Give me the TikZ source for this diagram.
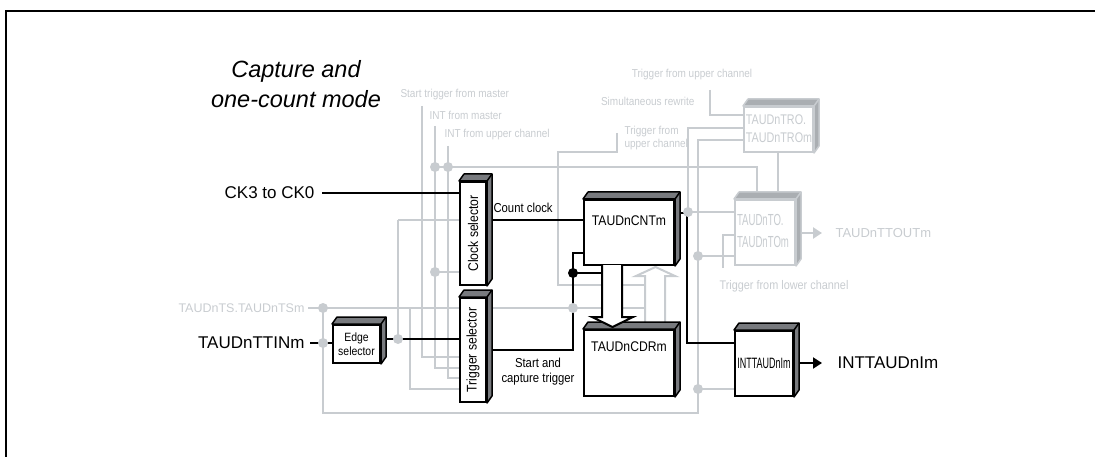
\documentclass[tikz,border=0pt]{standalone}
\usepackage{fontspec}
\setmainfont{Liberation Sans}
\newfontfamily\condfont[FakeStretch=0.87]{Liberation Sans}
\newfontfamily\trofont[FakeStretch=0.77]{Liberation Sans}
\newfontfamily\slimfont[FakeStretch=0.6]{Liberation Sans}
\usetikzlibrary{arrows.meta}

\definecolor{lgray}{RGB}{200,204,208}
\definecolor{mgray}{RGB}{170,174,178}
\definecolor{dgray}{RGB}{120,122,126}

\tikzset{
  wire/.style={line width=2pt},
  gwire/.style={lgray,line width=2.5pt},
  blk/.style={draw,line width=2pt,fill=white,inner sep=0pt},
  gblk/.style={blk,draw=lgray},
  dot/.style={circle,fill,inner sep=0pt,minimum size=10pt},
  gdot/.style={dot,fill=lgray},
  glabel/.style={lgray,font=\condfont\fontsize{11.5}{13.5}\selectfont},
  big/.style={font=\fontsize{17}{20}\selectfont},
}

% top and right faces of a block
\newcommand\cubesides[3]{%
  \filldraw[fill=#2,draw=#3,line width=1.5pt,line join=round]
    (#1.north west) -- ++(5,-7) -- ([shift={(5,-7)}]#1.north east)
    -- ([shift={(5,-7)}]#1.south east) -- (#1.south east) -- (#1.north east) -- cycle;
  \draw[#3,line width=1.5pt] (#1.north east) -- ++(5,-7);
}

\begin{document}
\begin{tikzpicture}[x=1pt,y=-1pt]
\useasboundingbox (0,0) rectangle (1095,457);
\draw[line width=2pt] (6,457) -- (6,11) -- (1095,11);

\node[font=\itshape\fontsize{23.5}{30}\selectfont,align=center] (title) at (296,84) {Capture and\\one-count mode};

% gray labels
\node[glabel,anchor=west] (stm) at (397,95) {Start trigger from master};
\node[glabel,anchor=west] (ifm) at (426,115) {INT from master};
\node[glabel,anchor=west] (ifu) at (441,135) {INT from upper channel};
\node[glabel,anchor=center] (tfu) at (692,75) {Trigger from upper channel};
\node[glabel,anchor=east] (sim) at (698,101) {Simultaneous rewrite};
\node[glabel,anchor=west,align=left] (tfu2) at (621,138) {Trigger from\\upper channel};
\node[glabel,anchor=west,font=\condfont\fontsize{12.5}{14}\selectfont] (tfl) at (716,286) {Trigger from lower channel};
\node[lgray,anchor=east,font=\fontsize{12.5}{14}\selectfont] (ts) at (308,308) {TAUDnTS.TAUDnTSm};
\node[lgray,anchor=west,font=\fontsize{13}{15}\selectfont] (tout) at (832,233) {TAUDnTTOUTm};

% block positions
\coordinate (clkc) at (473,233.5);
\coordinate (trgc) at (473,350);
\coordinate (edgc) at (356.5,344);
\coordinate (cntc) at (629,232.5);
\coordinate (cdrc) at (629,363);
\coordinate (intc) at (764,363.5);
\coordinate (toc) at (765,232.5);
\coordinate (troc) at (778.5,129.5);

% gray wiring
\coordinate (sel) at (398,220);
\coordinate (eo) at (398,339);
\draw[gwire] (sel) -- (460,220);
\draw[gwire] (sel) -- (eo);
\draw[gwire] (422,106) -- (422,357) -- (460,357);
\draw[gwire] (435,126) -- (435,368) -- (460,368);
\draw[gwire] (448,146) -- (448,378) -- (460,378);
\draw[gwire] (410,308) -- (410,389) -- (460,389);
\draw[gwire] (435,272) -- (460,272);
\draw[gwire] (435,167) -- (757,167) -- (757,193);
\draw[gwire] (ts.east) -- (645,308);
\draw[gwire] (323,308) -- (323,413) -- (698,413) -- (698,140) -- (744,140);
\draw[gwire] (617,133) -- (617,152) -- (558,152) -- (558,285) -- (645,285);
\draw[gwire] (688,212) -- (688,128) -- (744,128);
\draw[gwire] (710,90) -- (710,115) -- (744,115);
\draw[gwire] (778,152) -- (778,193);
\draw[gwire] (688,212) -- (735,212);
\draw[gwire] (698,256) -- (735,256);
\draw[gwire] (723,268) -- (723,235) -- (735,235);
\draw[gwire] (698,389) -- (735,389);
\draw[gwire,-{Triangle[length=9pt,width=11pt]}] (795,233) -- (822,233);
% hollow gray arrow up
\draw[lgray,line width=2pt,line join=miter] (645,323) -- (645,276) -- (636,276) -- (655.5,267)
  -- (675,276) -- (665,276) -- (665,323);

% black wiring
\node[big,anchor=east] (ck) at (318,193) {CK3 to CK0};
\node[big,anchor=east] (ttin) at (308,343) {TAUDnTTINm};
\node[big,anchor=west] (into) at (834,363) {INTTAUDnIm};
\coordinate (tup) at (573,253);
\coordinate (tdot) at (573,273);
\coordinate (co) at (687,213);
\coordinate (ci) at (687,343);
\draw[wire] ([xshift=4pt]ck.east) -- (460,193);
\draw[wire] ([xshift=2pt]ttin.east) -- (333,343);
\draw[wire] (380,339) -- (460,339);
\draw[wire] (486,220) -- (584,220);
\draw[wire] (486,350) -- (tup |- 486,350) -- (tup) -- (584,253);
\draw[wire] (tdot) -- (602,273);
\draw[wire] (674,213) -- (co) -- (ci) -- (735,343);
\draw[wire,-{Triangle[length=9pt,width=11pt]}] (793,363) -- (822,363);
\node[font=\condfont\fontsize{13}{15}\selectfont,anchor=south west] (cclk) at (490,216) {Count clock};
\node[font=\condfont\fontsize{13}{15}\selectfont,align=center] (sct) at (538,372) {Start and\\capture trigger};

% blocks
\node[blk,minimum width=26pt,minimum height=103pt] (clk) at (clkc) {};
\node[blk,minimum width=26pt,minimum height=104pt] (trg) at (trgc) {};
\node[blk,minimum width=47pt,minimum height=38pt] (edg) at (edgc) {};
\node[blk,minimum width=90pt,minimum height=65pt] (cnt) at (cntc) {};
\node[blk,minimum width=90pt,minimum height=66pt] (cdr) at (cdrc) {};
\node[blk,minimum width=58pt,minimum height=65pt] (int) at (intc) {};
\node[gblk,minimum width=60pt,minimum height=65pt] (to) at (toc) {};
\node[gblk,minimum width=69pt,minimum height=45pt] (tro) at (troc) {};
\cubesides{clk}{dgray}{black}
\cubesides{trg}{dgray}{black}
\cubesides{edg}{dgray}{black}
\cubesides{cnt}{dgray}{black}
\cubesides{cdr}{dgray}{black}
\cubesides{int}{dgray}{black}
\cubesides{to}{mgray}{lgray}
\cubesides{tro}{mgray}{lgray}

\node[rotate=90,font=\condfont\fontsize{14}{16}\selectfont] (clkt) at (clk) {Clock selector};
\node[rotate=90,font=\condfont\fontsize{14}{16}\selectfont] (trgt) at (trg) {Trigger selector};
\node[font=\condfont\fontsize{12}{14}\selectfont,align=center] (edgt) at (edg) {Edge\\selector};
\node[font=\condfont\fontsize{14}{16}\selectfont] (cntt) at (629,221) {TAUDnCNTm};
\node[font=\condfont\fontsize{14}{16}\selectfont] (cdrt) at (629,347) {TAUDnCDRm};
\node[font=\slimfont\fontsize{15}{17}\selectfont] (intt) at (int) {INTTAUDnIm};
\node[lgray,font=\slimfont\fontsize{16}{22}\selectfont,align=left] (tot) at (763,231) {TAUDnTO.\\TAUDnTOm};
\node[lgray,font=\trofont\fontsize{14}{18}\selectfont,align=left] (trot) at (779,129) {TAUDnTRO.\\TAUDnTROm};

% hollow black arrow down
\draw[line width=2pt,fill=white,line join=miter] (602,265) -- (602,317) -- (592,317) -- (612.5,327)
  -- (633,317) -- (622,317) -- (622,265);

% junction dots
\node[gdot] (d1) at (435,167) {};
\node[gdot] (d2) at (448,167) {};
\node[gdot] (d3) at (435,272) {};
\node[gdot] (d4) at (eo) {};
\node[gdot] (d5) at (323,308) {};
\node[gdot] (d6) at (323,343) {};
\node[gdot] (d7) at (573,308) {};
\node[gdot] (d8) at (688,212) {};
\node[gdot] (d9) at (698,256) {};
\node[gdot] (d10) at (698,389) {};
\node[dot] (bd) at (tdot) {};
\end{tikzpicture}
\end{document}
